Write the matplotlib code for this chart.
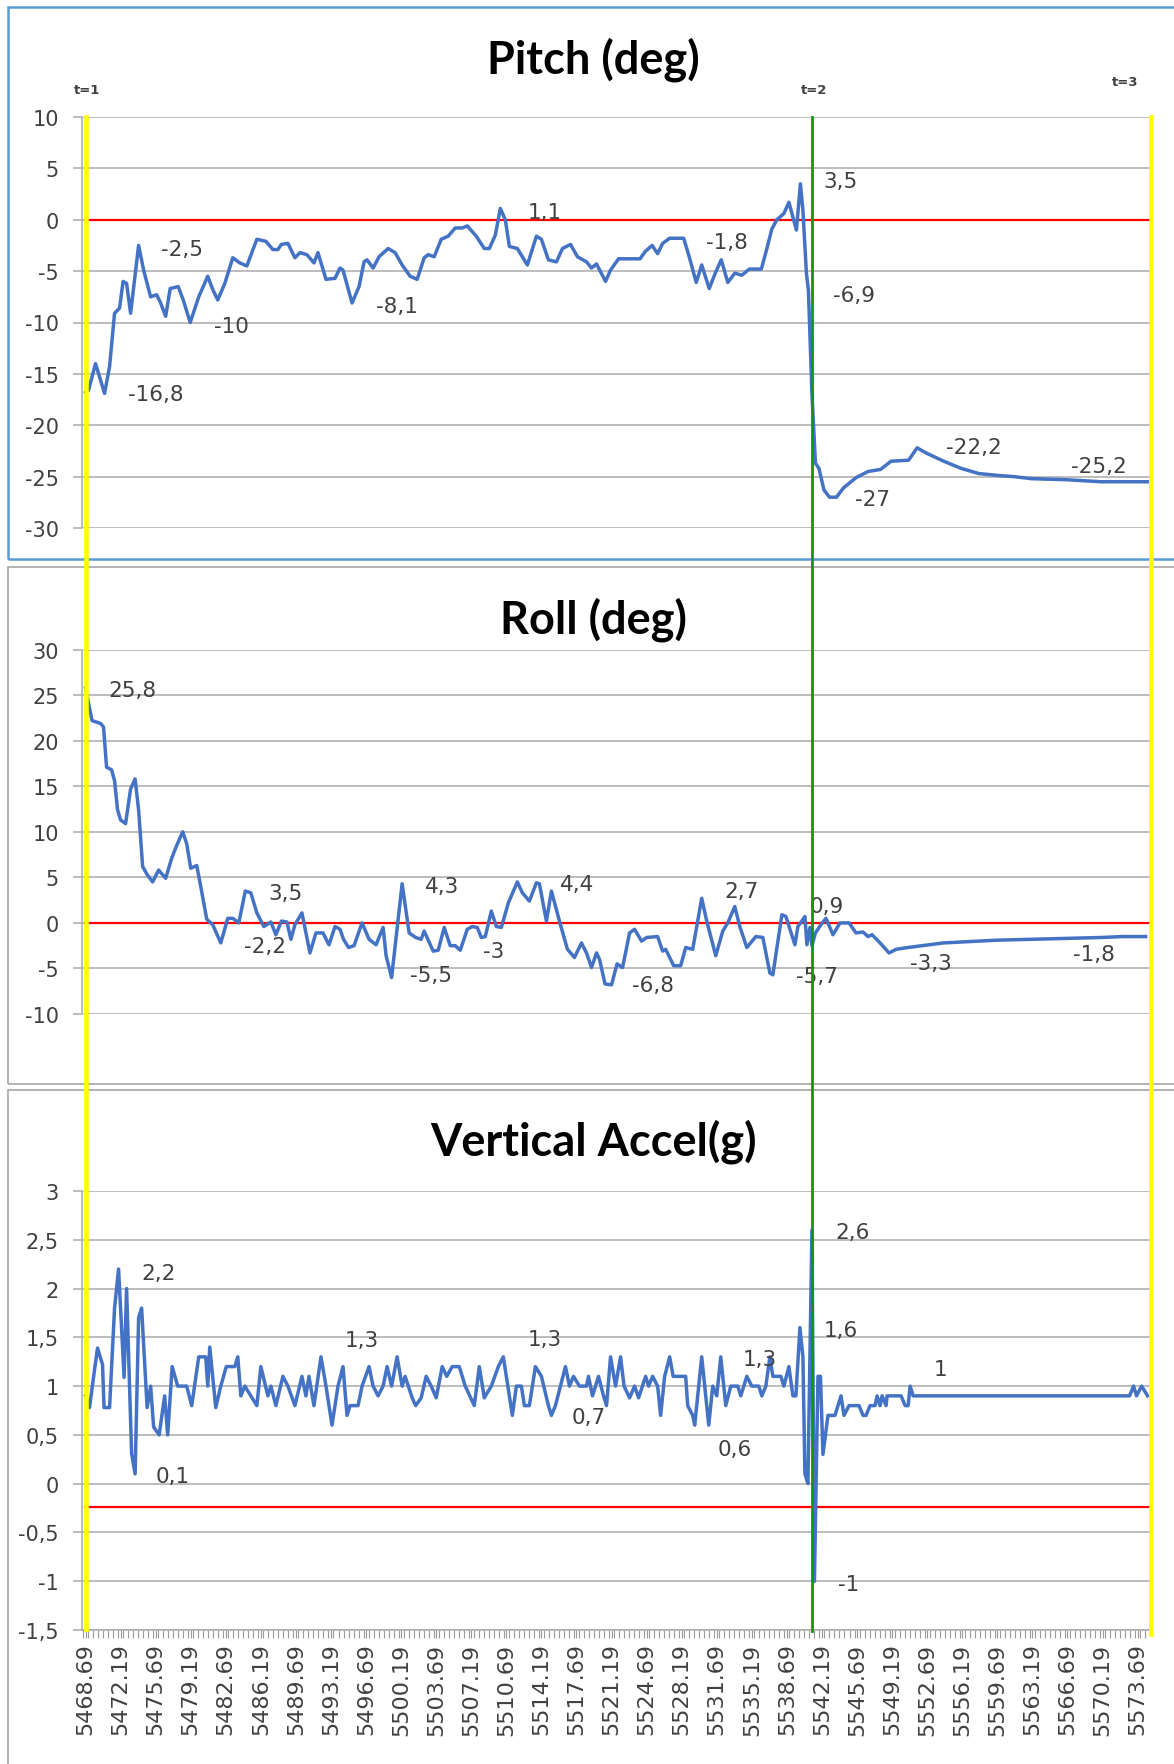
import matplotlib.pyplot as plt
import numpy as np
from matplotlib.lines import Line2D
from matplotlib.patches import Rectangle
from matplotlib.ticker import FixedLocator, FuncFormatter
import matplotlib.transforms as mtransforms

plt.rcParams['axes.unicode_minus'] = False
plt.rcParams['font.family'] = ['DejaVu Sans']

# time of the first sample; series times are given as offsets (s) from it
T0 = 5468.69

pitch_dt = [0.0, 0.3, 1.0, 1.5, 1.9, 2.4, 2.9, 3.4, 3.75, 4.1,
            4.5, 5.3, 5.8, 6.5, 7.1, 7.5, 8.0, 8.45, 9.25, 9.75,
            10.45, 11.3, 12.2, 12.7, 13.2, 13.9, 14.7, 15.4, 16.1, 17.1,
            18.0, 18.7, 19.2, 19.55, 20.2, 20.9, 21.4, 22.1, 22.8, 23.2,
            24.0, 24.9, 25.4, 25.7, 26.6, 27.3, 27.8, 28.1, 28.7, 29.3,
            30.2, 30.9, 31.6, 32.4, 33.1, 33.8, 34.2, 34.8, 35.5, 36.2,
            36.9, 37.6, 38.1, 39.0, 39.8, 40.3, 40.9, 41.4, 41.9, 42.3,
            43.1, 44.1, 45.0, 45.5, 46.2, 47.0, 47.6, 48.4, 49.1, 50.0,
            50.5, 51.0, 51.9, 52.4, 53.2, 55.35, 55.85, 56.55, 57.1, 57.6,
            58.3, 59.7, 60.25, 60.95, 61.5, 62.25, 62.85, 63.45, 64.1, 64.8,
            65.5, 66.25, 67.45, 67.95, 68.5, 69.0, 69.7, 70.2, 70.95, 71.35,
            71.6, 71.95, 72.15, 72.5, 72.85, 73.2, 73.7, 74.25, 74.95, 75.65,
            76.9, 78.1, 79.35, 80.4, 82.15, 83.0, 83.9, 85.65, 87.4, 89.15,
            91.25, 92.65, 94.4, 97.9, 101.4, 106.0]
pitch = [-16.8, -16.6, -14.0, -15.6, -16.9, -14.3, -9.1, -8.6, -6.0, -6.2,
         -9.1, -2.5, -4.9, -7.5, -7.3, -8.1, -9.4, -6.7, -6.5, -7.8,
         -10.0, -7.5, -5.5, -6.8, -7.8, -6.2, -3.7, -4.2, -4.5, -1.9,
         -2.1, -2.9, -2.9, -2.4, -2.3, -3.7, -3.2, -3.4, -4.2, -3.2,
         -5.8, -5.7, -4.7, -4.9, -8.1, -6.5, -4.1, -3.9, -4.7, -3.6,
         -2.8, -3.2, -4.4, -5.5, -5.8, -3.7, -3.4, -3.6, -1.9, -1.6,
         -0.8, -0.8, -0.6, -1.6, -2.8, -2.8, -1.5, 1.1, 0.0, -2.6,
         -2.8, -4.4, -1.6, -1.9, -3.9, -4.1, -2.8, -2.4, -3.6, -4.1,
         -4.7, -4.3, -6.0, -4.9, -3.8, -3.8, -3.1, -2.5, -3.3, -2.3,
         -1.8, -1.8, -3.6, -6.1, -4.4, -6.7, -5.2, -3.9, -6.1, -5.2,
         -5.4, -4.8, -4.8, -3.0, -0.9, 0.0, 0.6, 1.7, -1.0, 3.5,
         0.9, -5.2, -6.9, -16.9, -23.7, -24.2, -26.3, -27.0, -27.0, -26.1,
         -25.1, -24.5, -24.3, -23.5, -23.4, -22.2, -22.7, -23.5, -24.2, -24.7,
         -24.9, -25.0, -25.2, -25.3, -25.5, -25.5]

roll_dt = [0.0, 0.65, 1.5, 1.8, 2.1, 2.6, 2.9, 3.2, 3.5, 4.0,
           4.5, 4.95, 5.3, 5.7, 6.15, 6.7, 7.3, 8.0, 8.6, 9.1,
           9.7, 10.1, 10.5, 11.1, 11.5, 12.1, 12.7, 13.5, 14.2, 14.7,
           15.3, 15.95, 16.5, 17.1, 17.8, 18.5, 19.0, 19.55, 20.1, 20.5,
           20.9, 21.6, 22.4, 23.0, 23.7, 24.3, 24.9, 25.4, 25.75, 26.25,
           26.8, 27.6, 28.3, 29.0, 29.7, 30.0, 30.55, 31.6, 32.3, 32.95,
           33.5, 33.8, 34.7, 35.2, 35.8, 36.4, 36.9, 37.4, 38.1, 38.6,
           39.1, 39.5, 39.9, 40.5, 41.0, 41.5, 42.2, 43.1, 43.6, 44.3,
           45.0, 45.3, 46.0, 46.5, 47.4, 48.1, 48.8, 49.5, 50.0, 50.5,
           51.0, 51.3, 51.85, 52.5, 53.05, 53.6, 54.3, 54.8, 55.5, 56.0,
           57.1, 57.6, 57.9, 58.7, 59.4, 59.9, 60.6, 61.5, 62.0, 62.9,
           63.6, 64.1, 64.8, 65.3, 66.0, 66.9, 67.6, 68.3, 68.6, 69.5,
           69.9, 70.8, 71.1, 71.8, 72.0, 72.3, 72.5, 72.85, 73.4, 73.9,
           74.6, 75.3, 76.2, 76.9, 77.6, 78.1, 78.5, 79.3, 80.2, 80.9,
           82.1, 83.5, 85.6, 87.4, 90.9, 94.4, 97.9, 101.4, 103.5, 105.8]
roll = [25.8, 22.2, 21.9, 21.5, 17.1, 16.8, 15.6, 12.4, 11.3, 10.9,
        14.7, 15.8, 12.4, 6.2, 5.3, 4.5, 5.8, 4.9, 7.1, 8.5,
        10.0, 8.7, 6.0, 6.3, 4.0, 0.4, -0.2, -2.2, 0.5, 0.5,
        0.0, 3.5, 3.3, 1.1, -0.4, 0.1, -1.3, 0.2, 0.1, -1.8,
        -0.2, 1.1, -3.3, -1.1, -1.1, -2.4, -0.4, -0.7, -1.8, -2.7,
        -2.5, 0.0, -1.8, -2.4, -0.5, -3.6, -6.0, 4.3, -1.1, -1.6,
        -1.8, -0.9, -3.1, -3.0, -0.5, -2.5, -2.5, -3.0, -0.7, -0.4,
        -0.5, -1.6, -1.5, 1.3, -0.4, -0.5, 2.2, 4.5, 3.3, 2.4,
        4.4, 4.3, 0.2, 3.5, -0.2, -2.9, -3.8, -2.2, -3.3, -4.9,
        -3.3, -4.0, -6.7, -6.8, -4.5, -4.9, -1.1, -0.7, -2.0, -1.6,
        -1.5, -3.1, -2.9, -4.7, -4.7, -2.7, -2.9, 2.7, 0.2, -3.6,
        -0.9, 0.0, 1.8, -0.4, -2.7, -1.5, -1.6, -5.5, -5.7, 0.9,
        0.7, -2.4, -0.4, 0.7, -2.4, -0.5, -2.5, -1.1, -0.2, 0.5,
        -1.3, 0.0, 0.0, -1.1, -1.0, -1.5, -1.3, -2.2, -3.3, -2.9,
        -2.7, -2.5, -2.2, -2.1, -1.9, -1.8, -1.7, -1.6, -1.5, -1.5]

accel_dt = [0.0, 0.4, 0.8, 1.2, 1.7, 1.85, 2.4, 2.9, 3.3, 3.85,
            4.1, 4.6, 4.95, 5.3, 5.6, 6.15, 6.5, 6.8, 7.35, 7.9,
            8.2, 8.65, 9.2, 10.1, 10.6, 11.3, 12.0, 12.2, 12.4, 13.0,
            13.5, 14.05, 14.9, 15.2, 15.5, 15.9, 16.5, 17.1, 17.5, 18.2,
            18.5, 19.0, 19.7, 20.2, 20.9, 21.6, 22.0, 22.3, 22.8, 23.5,
            24.0, 24.6, 25.2, 25.7, 26.1, 26.4, 27.2, 27.6, 28.3, 28.7,
            29.2, 29.7, 30.1, 30.55, 31.1, 31.6, 31.9, 32.6, 32.95, 33.5,
            34.0, 34.5, 35.0, 35.6, 36.05, 36.6, 37.3, 37.9, 38.8, 39.3,
            39.8, 40.5, 41.2, 41.7, 42.6, 43.0, 43.5, 43.8, 44.3, 44.9,
            45.5, 46.2, 46.5, 46.9, 47.9, 48.3, 48.7, 49.3, 50.0, 50.2,
            50.6, 51.2, 51.7, 52.0, 52.4, 52.9, 53.4, 53.75, 54.3, 54.8,
            55.2, 55.9, 56.2, 56.6, 57.1, 57.4, 57.8, 58.3, 58.65, 59.9,
            60.1, 60.6, 60.8, 61.5, 62.2, 62.6, 63.0, 63.4, 63.9, 64.4,
            65.1, 65.4, 66.0, 66.5, 67.2, 67.5, 67.9, 68.3, 68.6, 69.4,
            69.7, 70.2, 70.6, 70.9, 71.3, 71.6, 71.8, 72.1, 72.5, 72.75,
            73.1, 73.35, 73.6, 74.1, 74.8, 75.1, 75.4, 75.7, 76.2, 77.2,
            77.6, 77.9, 78.3, 78.8, 79.0, 79.3, 79.5, 79.9, 80.0, 81.4,
            81.8, 82.1, 82.3, 82.6, 104.2, 104.6, 104.9, 105.4, 106.0]
accel = [0.9, 0.78, 1.09, 1.39, 1.22, 0.78, 0.78, 1.8, 2.2, 1.09,
         2.0, 0.31, 0.1, 1.7, 1.8, 0.78, 1.0, 0.58, 0.5, 0.9,
         0.5, 1.2, 1.0, 1.0, 0.8, 1.3, 1.3, 1.0, 1.4, 0.78,
         1.0, 1.2, 1.2, 1.3, 0.9, 1.0, 0.9, 0.8, 1.2, 0.9,
         1.0, 0.8, 1.1, 1.0, 0.8, 1.1, 0.9, 1.1, 0.8, 1.3,
         1.0, 0.6, 1.0, 1.2, 0.7, 0.8, 0.8, 1.0, 1.2, 1.0,
         0.9, 1.0, 1.2, 1.0, 1.3, 1.0, 1.1, 0.88, 0.8, 0.88,
         1.1, 1.0, 0.88, 1.2, 1.1, 1.2, 1.2, 1.0, 0.8, 1.2,
         0.88, 1.0, 1.2, 1.3, 0.7, 1.0, 1.0, 0.8, 0.8, 1.2,
         1.1, 0.8, 0.7, 0.8, 1.2, 1.0, 1.1, 1.0, 1.0, 1.1,
         0.9, 1.1, 0.9, 0.8, 1.3, 1.0, 1.3, 1.0, 0.88, 1.0,
         0.88, 1.1, 1.0, 1.1, 1.0, 0.7, 1.1, 1.3, 1.1, 1.1,
         0.8, 0.7, 0.6, 1.3, 0.6, 1.0, 0.9, 1.3, 0.8, 1.0,
         1.0, 0.9, 1.1, 1.0, 1.0, 0.9, 1.0, 1.3, 1.1, 1.1,
         1.0, 1.2, 0.9, 0.9, 1.6, 1.3, 0.1, 0.0, 2.6, -1.0,
         1.1, 1.1, 0.3, 0.7, 0.7, 0.8, 0.9, 0.7, 0.8, 0.8,
         0.7, 0.7, 0.8, 0.8, 0.9, 0.8, 0.9, 0.8, 0.9, 0.9,
         0.8, 0.8, 1.0, 0.9, 0.9, 1.0, 0.9, 1.0, 0.9]

# data labels: text, where it sits (offset s, value)
pitch_lbl = ["-16,8", "-2,5", "-10", "-8,1", "1,1", "-1,8", "3,5", "-6,9", "-27", "-22,2", "-25,2"]
pitch_lbl_dt = [4.26, 7.5, 12.85, 29.0, 44.1, 61.9, 73.65, 74.6, 76.8, 85.9, 98.4]
pitch_lbl_v = [-17.0, -2.8, -10.3, -8.4, 0.8, -2.2, 3.8, -7.3, -27.2, -22.1, -24.0]

roll_lbl = ["25,8", "3,5", "-2,2", "4,3", "-5,5", "-3", "4,4", "-6,8", "2,7", "0,9", "-5,7", "-3,3", "-1,8"]
roll_lbl_dt = [2.27, 18.2, 15.8, 33.9, 32.4, 39.7, 47.3, 54.5, 63.8, 72.3, 70.9, 82.3, 98.6]
roll_lbl_v = [25.6, 3.3, -2.5, 4.1, -5.7, -3.1, 4.25, -6.8, 3.45, 1.9, -5.8, -4.4, -3.4]

accel_lbl = ["2,2", "0,1", "1,3", "1,3", "0,7", "0,6", "1,3", "2,6", "1,6", "1", "-1"]
accel_lbl_dt = [5.57, 7.0, 25.9, 44.1, 48.5, 63.1, 65.6, 74.8, 73.65, 84.7, 75.06]
accel_lbl_v = [2.16, 0.08, 1.47, 1.48, 0.68, 0.36, 1.28, 2.58, 1.58, 1.18, -1.03]

# category axis labels
x_labels = ["5468.69", "5472.19", "5475.69", "5479.19", "5482.69", "5486.19",
            "5489.69", "5493.19", "5496.69", "5500.19", "5503.69", "5507.19",
            "5510.69", "5514.19", "5517.69", "5521.19", "5524.69", "5528.19",
            "5531.69", "5535.19", "5538.69", "5542.19", "5545.69", "5549.19",
            "5552.69", "5556.19", "5559.69", "5563.19", "5566.69", "5570.19",
            "5573.69"]

# event markers (offset s) and threshold levels
t_events = [0.0, 72.5, 106.35]
t_names = ["t=1", "t=2", "t=3"]
thresholds = [0.0, 0.0, -0.235]

W, H = 1174, 1765
BLUE = '#4472C4'
GRID = '#ABABAB'
TXT = '#404040'


def fx(px):
    return px / W


def fy(py):
    return 1 - py / H


fig = plt.figure(figsize=(W / 100, H / 100), dpi=100)


def make_axes(top, bottom, ylo, yhi, step, fmt):
    ax = fig.add_axes([fx(82), fy(bottom), fx(1150) - fx(82), (bottom - top) / H])
    ax.set_xlim(T0 - 0.35, T0 + 106.24)
    ax.set_ylim(ylo, yhi)
    ticks = np.arange(ylo, yhi + step / 2, step)
    ax.yaxis.set_major_locator(FixedLocator(ticks))
    ax.yaxis.set_major_formatter(FuncFormatter(fmt))
    ax.yaxis.grid(True, color=GRID, lw=1.1)
    ax.set_axisbelow(True)
    for s in ['top', 'right', 'bottom']:
        ax.spines[s].set_visible(False)
    ax.spines['left'].set_color(GRID)
    ax.spines['left'].set_linewidth(1.1)
    ax.tick_params(axis='y', length=6.5, width=1.1, color=GRID, pad=10,
                   labelsize=15, labelcolor=TXT)
    ax.tick_params(axis='x', bottom=False, labelbottom=False)
    return ax


def int_fmt(v, pos):
    return '%d' % round(v)


def comma_fmt(v, pos):
    s = ('%g' % v).replace('.', ',')
    return '0' if s == '-0' else s


ax1 = make_axes(118, 529, -30, 10, 5, int_fmt)
ax2 = make_axes(650.6, 1015, -10, 30, 5, int_fmt)
ax3 = make_axes(1192, 1631, -1.5, 3, 0.5, comma_fmt)

series = [(ax1, pitch_dt, pitch, pitch_lbl, pitch_lbl_dt, pitch_lbl_v),
          (ax2, roll_dt, roll, roll_lbl, roll_lbl_dt, roll_lbl_v),
          (ax3, accel_dt, accel, accel_lbl, accel_lbl_dt, accel_lbl_v)]

for (ax, dt, vals, lbl, ldt, lv), thr in zip(series, thresholds):
    ax.axhline(thr, xmin=0.003, xmax=1, color='#FF0000', lw=1.6, zorder=2)
    ax.plot(T0 + np.array(dt), vals, color=BLUE, lw=2.5, zorder=3,
            solid_joinstyle='round')
    for s, d, v in zip(lbl, ldt, lv):
        ax.text(T0 + d, v, s, ha='left', va='center', fontsize=15.5, color=TXT,
                zorder=4)

# category axis of the bottom panel
ax3.spines['bottom'].set_visible(True)
ax3.spines['bottom'].set_color(GRID)
ax3.spines['bottom'].set_linewidth(1.1)
xpos = [float(s) for s in x_labels]
ax3.xaxis.set_major_locator(FixedLocator(xpos))
ax3.set_xticklabels(x_labels, rotation=90)
ax3.xaxis.set_minor_locator(FixedLocator(T0 - 0.25 + 0.5 * np.arange(214)))
ax3.tick_params(axis='x', which='both', bottom=True, labelbottom=True,
                length=6, width=0.8, color='#9A9A9A', pad=3,
                labelsize=16, labelcolor=TXT)

# titles
for txt, py in zip(['Pitch (deg)', 'Roll (deg)', 'Vertical Accel(g)'],
                   [60, 619.5, 1142]):
    fig.text(fx(593), fy(py), txt, ha='center', va='center', fontsize=32.5,
             fontweight='bold', family='Lato', color='black')

# event labels
for name, px, py in zip(t_names, [86.7, 813.8, 1125.6], [90, 90, 83]):
    fig.text(fx(px), fy(py), name, ha='center', va='center', fontsize=9.5,
             fontweight='bold', color=TXT)

# chart frames
fig.add_artist(Rectangle((fx(8), fy(560)), 1.0, (560 - 8) / H,
                         transform=fig.transFigure, fill=False,
                         ec='#5B9BD5', lw=1.8))
fig.add_artist(Rectangle((fx(8), fy(1085)), 1.0, (1085 - 567.5) / H,
                         transform=fig.transFigure, fill=False,
                         ec='#A6A6A6', lw=1.2))
fig.add_artist(Rectangle((fx(8), fy(1775)), 1.0, (1775 - 1091) / H,
                         transform=fig.transFigure, fill=False,
                         ec='#A6A6A6', lw=1.2))

# event lines spanning all three panels
trans = mtransforms.blended_transform_factory(ax3.transData, fig.transFigure)
ev_colors = ['#FFFF00', '#129612', '#FFFF00']
ev_width = [3.3, 2.0, 3.3]
ev_bottom = [1630, 1632, 1635]
for d, c, w, b in zip(t_events, ev_colors, ev_width, ev_bottom):
    fig.add_artist(Line2D([T0 + d, T0 + d], [fy(118), fy(b)], transform=trans,
                          color=c, lw=w, zorder=5))

fig.savefig('out.png', dpi=100)
